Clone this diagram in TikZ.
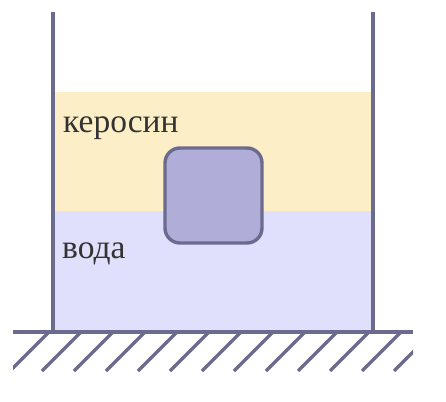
\documentclass[tikz,border=0pt]{standalone}
\usepackage{fontspec}
\setmainfont{Liberation Serif}
\definecolor{wallc}{HTML}{6B6B8F}
\definecolor{kero}{HTML}{FCEFC8}
\definecolor{water}{HTML}{E0E0FC}
\definecolor{blockc}{HTML}{B0AED8}
\definecolor{txt}{HTML}{333333}
\tikzset{
  wall/.style={draw=wallc, line width=3.6pt},
  hatchline/.style={draw=wallc, line width=3.4pt},
  blockbox/.style={draw=wallc, fill=blockc, line width=3.4pt, rounded corners=15pt},
  label/.style={text=txt, font=\fontsize{33.5}{33.5}\selectfont, anchor=base west, inner sep=0pt},
}
\begin{document}
\begin{tikzpicture}[x=1pt,y=-1pt]
\useasboundingbox (0,0) rectangle (446,401);
% liquids
\fill[kero] (53,92) rectangle (373,211);
\fill[water] (53,211) rectangle (373,331);
% block
\draw[blockbox] (165,148) rectangle (262,243);
% walls
\draw[wall] (53,12) -- (53,331);
\draw[wall] (373,12) -- (373,331);
% ground
\draw[wall] (13,332) -- (413,332);
\begin{scope}
\clip (13,333) rectangle (413,371);
\foreach \k in {-1,...,12} {
  \draw[hatchline] ({42+32*\k},371) -- ({80+32*\k},333);
}
\end{scope}
% labels
\node[label] (kerosin) at (63,132) {керосин};
\node[label] (voda) at (62,258) {вода};
\end{tikzpicture}
\end{document}
